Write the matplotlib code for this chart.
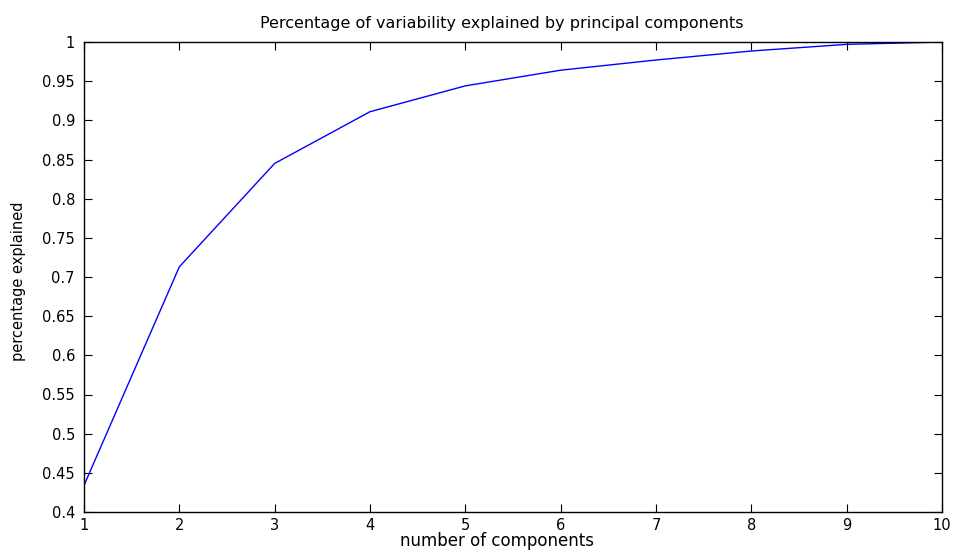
import matplotlib
matplotlib.use("Agg")
import matplotlib.pyplot as plt

components = [1, 2, 3, 4, 5, 6, 7, 8, 9, 10]
explained = [0.434, 0.713, 0.845, 0.911, 0.944, 0.964, 0.977, 0.9885, 0.997, 1.0]
yticks = [0.4, 0.45, 0.5, 0.55, 0.6, 0.65, 0.7, 0.75, 0.8, 0.85, 0.9, 0.95, 1.0]
ytick_labels = ["0.4", "0.45", "0.5", "0.55", "0.6", "0.65", "0.7", "0.75", "0.8", "0.85", "0.9", "0.95", "1"]

plt.rcParams['font.family'] = ['DejaVu Sans']

fig = plt.figure(figsize=(9.54, 5.53), dpi=100)
L, R, T, B = 84, 942, 42, 512
ax = fig.add_axes([L/954, 1 - B/553, (R-L)/954, (B-T)/553])
ax.plot(components, explained, color='#0000ff', linewidth=1.0)
ax.set_xlim(1, 10)
ax.set_ylim(0.4, 1.0)
ax.set_xticks(components)
ax.set_xticklabels([str(c) for c in components])
ax.set_yticks(yticks)
ax.set_yticklabels(ytick_labels)
ax.tick_params(direction='in', length=6, width=0.8, top=True, right=True, labelsize=10.5)
ax.tick_params(axis='y', pad=6.5)
ax.tick_params(axis='x', pad=4)
for s in ax.spines.values():
    s.set_linewidth(1.0)
ax.set_title('Percentage of variability explained by principal components', fontsize=11.5,
             x=(502 - L)/(R - L), pad=10)
ax.set_xlabel('number of components', fontsize=12)
ax.xaxis.set_label_coords((497 - L)/(R - L), -(532 - B)/(B - T))
ax.set_ylabel('percentage explained', fontsize=10.5)
ax.yaxis.set_label_coords(-(84 - 26)/(R - L), (512 - 281)/(B - T))
fig.savefig('out.png', dpi=100)
